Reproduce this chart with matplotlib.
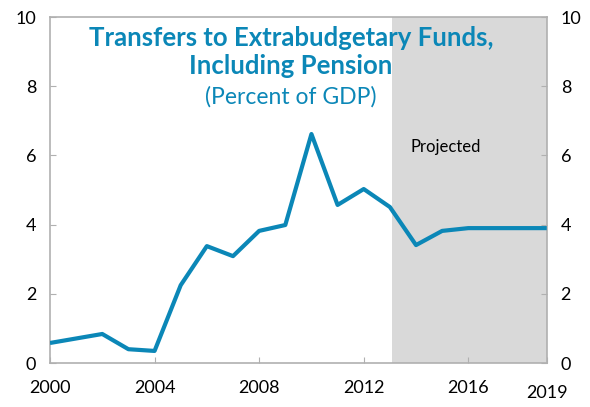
import numpy as np
import matplotlib.pyplot as plt

# Transfers to extrabudgetary funds, incl. pension (percent of GDP)
years = [2000, 2001, 2002, 2003, 2004, 2005, 2006, 2007, 2008, 2009,
         2010, 2011, 2012, 2013, 2014, 2015, 2016, 2017, 2018, 2019]
transfers = [0.58, 0.71, 0.84, 0.40, 0.35, 2.25, 3.38, 3.09, 3.82, 3.99,
             6.62, 4.57, 5.03, 4.51, 3.41, 3.82, 3.90, 3.90, 3.90, 3.90]
proj_start = 2013.1
proj_end = 2019
xtick_vals = [2000, 2004, 2008, 2012, 2016, 2019]
ytick_vals = [0, 2, 4, 6, 8, 10]

blue = "#0b87b7"
grey = "#b0b0b0"
plt.rcParams['font.family'] = ['Lato', 'DejaVu Sans']

fig = plt.figure(figsize=(5.9, 4.07), dpi=100)
ax = fig.add_axes([0.0847, 0.108, 0.842, 0.85])

ax.axvspan(proj_start, proj_end, color="#d9d9d9", zorder=0, lw=0)
ax.plot(years, transfers, color=blue, lw=3, solid_capstyle="butt", zorder=3)

ax.set_xlim(2000, 2019)
ax.set_ylim(0, 10)
ax.set_xticks(xtick_vals)
ax.set_xticklabels([str(v) for v in xtick_vals])
ax.set_yticks(ytick_vals)

for s in ax.spines.values():
    s.set_color(grey)
    s.set_linewidth(1.2)

ax.tick_params(axis="x", direction="in", length=4, color=grey, pad=12, labelsize=13)
ax.tick_params(axis="y", direction="in", length=4, color=grey, pad=10, labelsize=13,
               right=True, labelright=True)
# 2019 label sits a bit lower in the original
ax.get_xticklabels()[-1].set_y(-0.015)

ax.text(0.485, 0.975, "Transfers to Extrabudgetary Funds,\nIncluding Pension",
        transform=ax.transAxes, ha="center", va="top", color=blue,
        fontsize=18.5, fontweight="bold", linespacing=1.2)
ax.text(0.485, 0.8, "(Percent of GDP)", transform=ax.transAxes,
        ha="center", va="top", color=blue, fontsize=16.5)
ax.text(2013.8, 6.25, "Projected", ha="left", va="center", fontsize=12, color="black")

fig.savefig("out.png", dpi=100)
